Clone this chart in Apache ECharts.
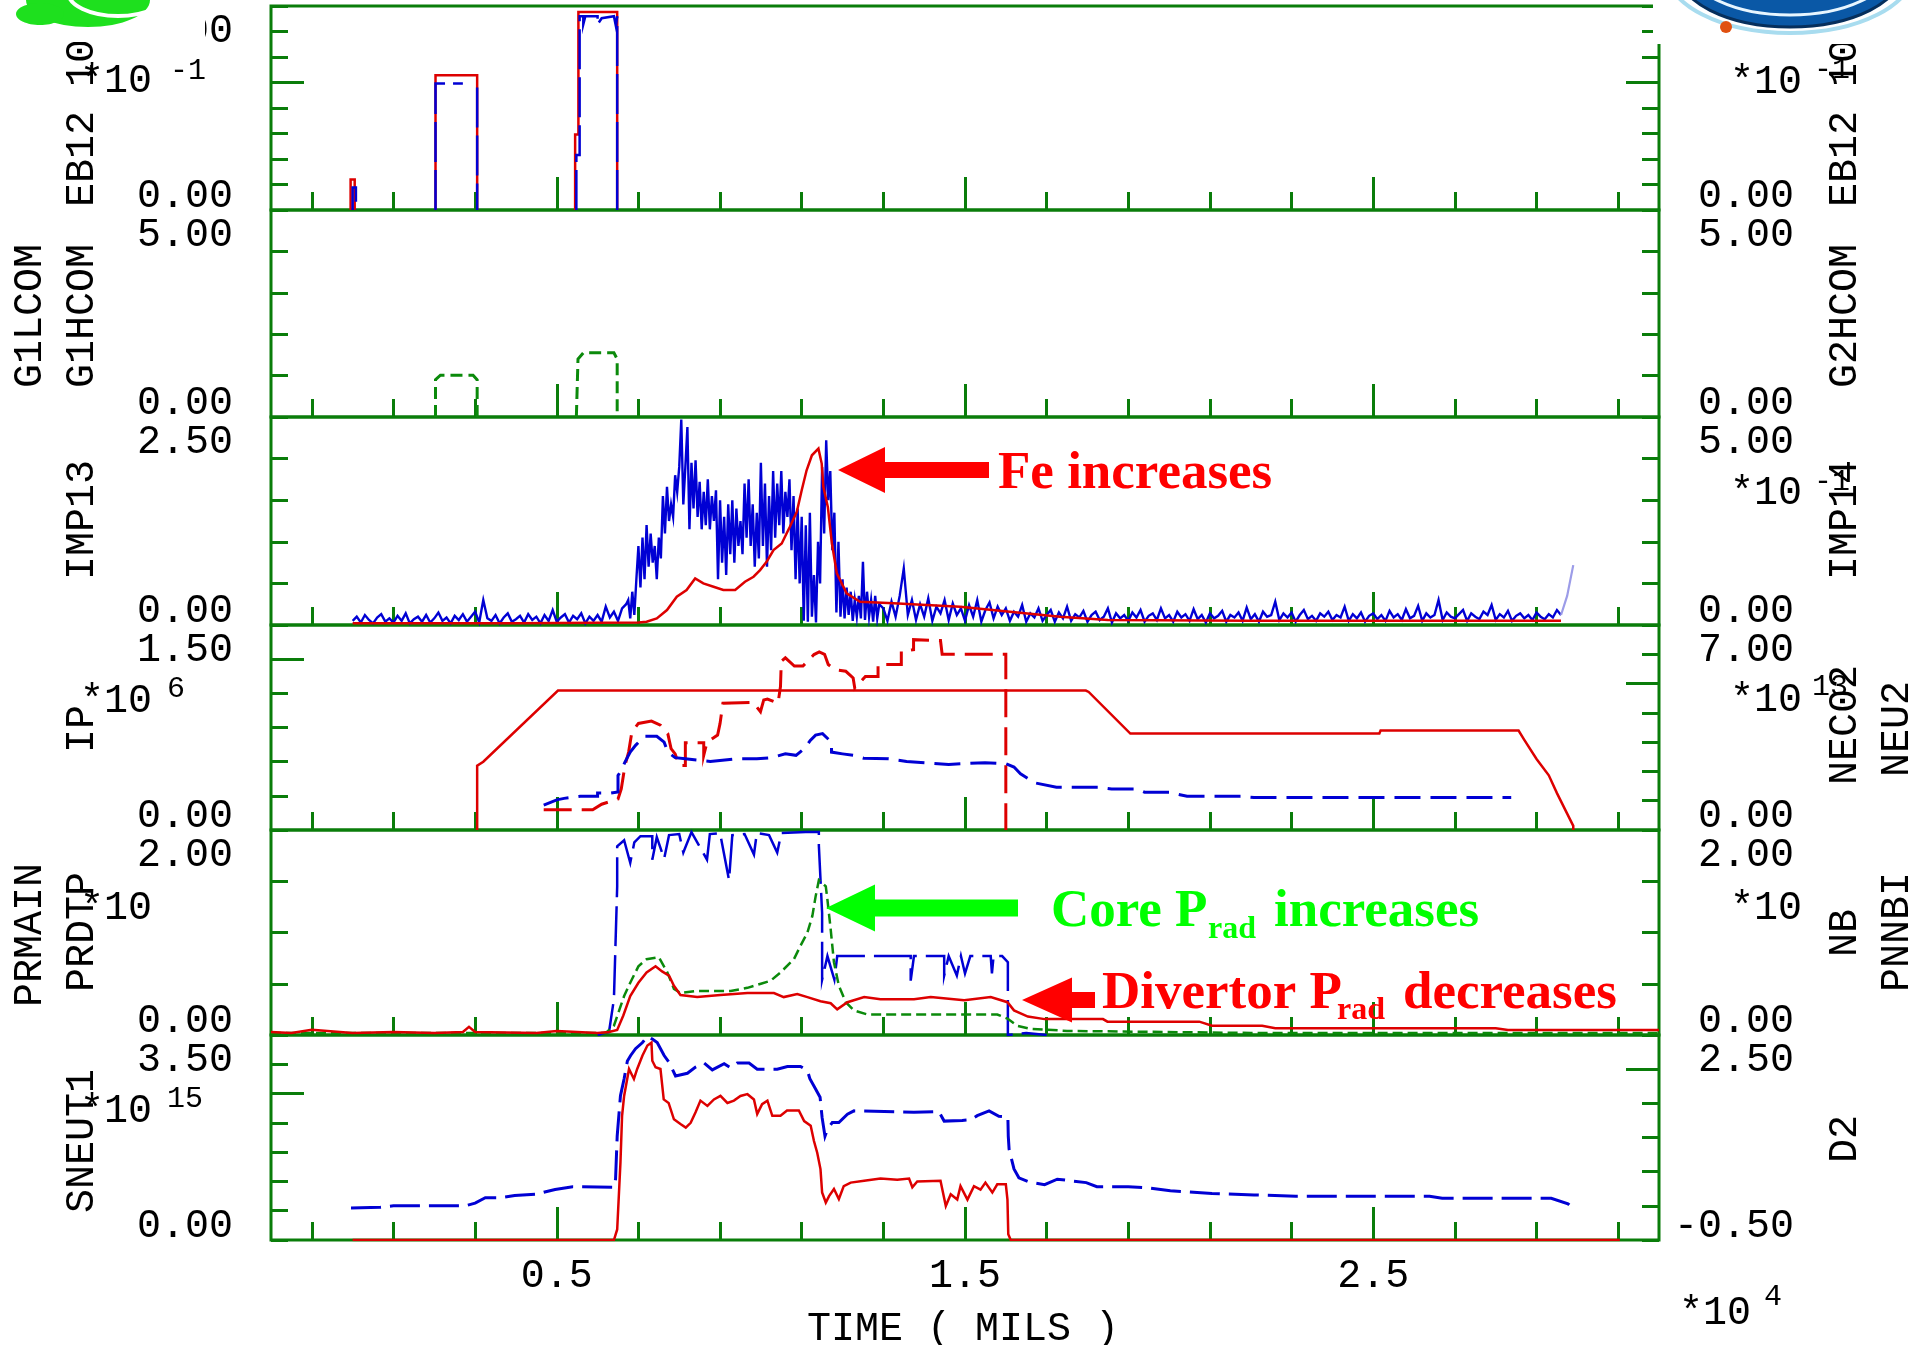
<!DOCTYPE html>
<html>
<head>
<meta charset="utf-8">
<script src="https://cdn.jsdelivr.net/npm/echarts@6/dist/echarts.min.js"></script>
<style>
  html, body { margin: 0; padding: 0; background: #ffffff; }
  #chart { width: 1924px; height: 1345px; }
</style>
</head>
<body>
<div id="chart"></div>
<script>
// ---------------- time axis (units of 10^4 mils) ----------------
const timeMin = -0.2;
const timeMax = 3.2;
const timeMinorTicks = [-0.1, 0.1, 0.3, 0.7, 0.9, 1.1, 1.3, 1.7, 1.9, 2.1, 2.3, 2.7, 2.9, 3.1];
const timeMajorTicks = [0.5, 1.5, 2.5];
const timeTickLabels = ['0.5', '1.5', '2.5'];

// ---------------- vertical scales of the six panels ----------------
const leftMin = [0, 0, 0, 0, 0, 0];
const leftMax = [1, 5, 2.5, 1.5, 2, 3.5];
const leftDivisions = [8, 5, 5, 6, 4, 7];
const leftLongTick = [0.625, null, null, 1.25, null, 2.5];
const leftLabelsBottom = ['0.00', '0.00', '0.00', '0.00', '0.00', '0.00'];
const leftLabelsTop = ['1.00', '5.00', '2.50', '1.50', '2.00', '3.50'];

const rightMin = [0, 0, 0, 0, 0, -0.5];
const rightMax = [1, 5, 5, 7, 2, 2.5];
const rightDivisions = [8, 5, 5, 7, 4, 6];
const rightLongTick = [0.625, null, null, 5, null, 2.0];
const rightLabelsBottom = ['0.00', '0.00', '0.00', '0.00', '0.00', '-0.50'];
const rightLabelsTop = ['1.00', '5.00', '5.00', '7.00', '2.00', '2.50'];

// ---------------- signals: [time, value] ----------------
// Panel 1: EB12 beam energies
const eb12Red = [[-0.005, 0], [-0.005, 0.15], [0.005, 0.15], [0.005, 0], [0.1, '-'],
  [0.203, 0], [0.203, 0.66], [0.305, 0.66], [0.305, 0], [0.4, '-'],
  [0.545, 0], [0.545, 0.37], [0.553, 0.37], [0.553, 0.97], [0.648, 0.97], [0.648, 0]];
const eb12Blue = [[0.0, 0], [0.0, 0.11], [0.008, 0.11], [0.008, 0], [0.1, '-'],
  [0.203, 0], [0.203, 0.62], [0.27, 0.62], [0.27, '-'], [0.305, 0.6], [0.305, 0], [0.4, '-'],
  [0.548, 0], [0.548, 0.27], [0.556, 0.27], [0.556, 0.95], [0.565, 0.95], [0.565, 0.91],
  [0.57, 0.95], [0.6, 0.95], [0.6, 0.91], [0.61, 0.94], [0.64, 0.95], [0.645, 0.9], [0.648, 0.95], [0.648, 0]];

// Panel 2: gyrotron commands
const g1hcomGreen = [[0.203, 0], [0.203, 0.9], [0.215, 1.01], [0.295, 1.01], [0.305, 0.9], [0.305, 0], [0.4, '-'],
  [0.548, 0], [0.552, 1.4], [0.565, 1.55], [0.64, 1.55], [0.648, 1.4], [0.648, 0]];

// Panel 3: impurity line intensities (blue sampled on a fixed time grid)
const imp13PreStart = 0.0, imp13PreStep = 0.01;
const imp13PreValues = [
  0.05, 0.10, 0.03, 0.12, 0.06, 0.02, 0.09, 0.13, 0.04, 0.08,
  0.03, 0.11, 0.05, 0.14, 0.02, 0.07, 0.10, 0.04, 0.12, 0.03,
  0.08, 0.15, 0.05, 0.09, 0.02, 0.11, 0.06, 0.13, 0.04, 0.10,
  0.16, 0.03, 0.30, 0.08, 0.05, 0.12, 0.02, 0.09, 0.14, 0.04,
  0.07, 0.11, 0.03, 0.13, 0.06, 0.10, 0.02, 0.12, 0.05, 0.18,
  0.04, 0.09, 0.13, 0.03, 0.11, 0.07, 0.14, 0.02, 0.10, 0.05,
  0.12, 0.04, 0.22, 0.09, 0.16, 0.05, 0.20];
const imp13BurstStart = 0.67, imp13BurstStep = 0.005;
const imp13BurstValues = [
  0.25, 0.30, 0.08, 0.40, 0.12, 0.55, 0.95, 0.45, 1.05, 0.55,
  1.20, 0.70, 1.10, 0.75, 0.95, 0.55, 1.05, 0.80, 1.55, 1.10,
  1.66, 1.25, 1.45, 1.30, 1.80, 1.60, 1.90, 2.47, 1.45, 1.90,
  2.38, 1.15, 1.95, 1.40, 1.98, 1.30, 1.72, 1.15, 1.60, 1.20,
  1.75, 1.15, 1.55, 1.25, 1.62, 0.55, 1.50, 0.75, 1.30, 0.60,
  1.45, 0.85, 1.50, 0.75, 1.40, 0.95, 1.25, 0.85, 1.70, 1.05,
  1.75, 0.95, 1.45, 0.70, 1.35, 0.80, 1.95, 0.95, 1.70, 0.70,
  1.55, 0.90, 1.85, 1.05, 1.70, 1.20, 1.85, 1.10, 1.60, 1.30,
  1.75, 0.90, 1.55, 0.55, 1.40, 0.50, 1.30, 0.05, 1.20, 0.04,
  1.35, 0.10, 0.60, 0.03, 1.00, 0.50, 1.90, 1.10, 2.22, 1.50,
  1.85, 0.90, 1.35, 0.15, 1.00, 0.10, 0.55, 0.08, 0.45, 0.12,
  0.40, 0.05, 0.30, 0.10, 0.35, 0.08, 0.76, 0.06, 0.40, 0.10,
  0.30, 0.04, 0.35, 0.08, 0.25];
const imp13PostStart = 1.30, imp13PostStep = 0.01;
const imp13PostValues = [
  0.20, 0.05, 0.28, 0.10, 0.35, 0.68, 0.12, 0.30, 0.06, 0.25,
  0.10, 0.32, 0.05, 0.22, 0.14, 0.30, 0.06, 0.26, 0.12, 0.20,
  0.05, 0.24, 0.10, 0.30, 0.04, 0.18, 0.27, 0.08, 0.22, 0.12,
  0.20, 0.05, 0.16, 0.10, 0.24, 0.04, 0.14, 0.09, 0.20, 0.05,
  0.12, 0.18, 0.04, 0.15, 0.08, 0.22, 0.05, 0.13, 0.09, 0.17,
  0.04, 0.12, 0.16, 0.06, 0.10, 0.20, 0.03, 0.14, 0.08, 0.12,
  0.05, 0.15, 0.09, 0.18, 0.04, 0.11, 0.14, 0.06, 0.20, 0.08,
  0.12, 0.04, 0.16, 0.09, 0.13, 0.05, 0.19, 0.07, 0.12, 0.03,
  0.14, 0.08, 0.11, 0.17, 0.04, 0.12, 0.09, 0.15, 0.05, 0.21,
  0.07, 0.13, 0.04, 0.16, 0.10, 0.12, 0.28, 0.06, 0.14, 0.09,
  0.15, 0.04, 0.12, 0.18, 0.07, 0.11, 0.05, 0.14, 0.10, 0.16,
  0.06, 0.12, 0.09, 0.22, 0.05, 0.13, 0.08, 0.15, 0.04, 0.11,
  0.14, 0.07, 0.12, 0.05, 0.17, 0.09, 0.13, 0.06, 0.19, 0.08,
  0.11, 0.23, 0.05, 0.14, 0.09, 0.12, 0.30, 0.06, 0.15, 0.10,
  0.08, 0.13, 0.18, 0.05, 0.14, 0.10, 0.07, 0.16, 0.12, 0.24,
  0.06, 0.13, 0.09, 0.17, 0.05, 0.11, 0.14, 0.08, 0.12, 0.06,
  0.15, 0.10, 0.07, 0.13, 0.09, 0.18, 0.12];
const imp13Tail = [[2.96, 0.12], [2.975, 0.35], [2.99, 0.72]];
const imp14Red = [[0.0, 0.02], [0.40, 0.02], [0.70, 0.03], [0.72, 0.04], [0.745, 0.08], [0.77, 0.18],
  [0.794, 0.34], [0.818, 0.42], [0.839, 0.56], [0.859, 0.50], [0.884, 0.46], [0.908, 0.42], [0.937, 0.42],
  [0.961, 0.52], [0.982, 0.58], [0.998, 0.66], [1.014, 0.76], [1.031, 0.90], [1.051, 0.98], [1.071, 1.18],
  [1.088, 1.36], [1.100, 1.62], [1.112, 1.86], [1.125, 2.04], [1.141, 2.12], [1.149, 1.94], [1.153, 1.66],
  [1.164, 1.42], [1.174, 0.98], [1.186, 0.62], [1.21, 0.38], [1.243, 0.28], [1.325, 0.26], [1.406, 0.24],
  [1.488, 0.22], [1.61, 0.16], [1.733, 0.10], [1.85, 0.06], [2.2, 0.05], [2.96, 0.05]];

// Panel 4: plasma current (left) and densities (right)
const ipRed = [[0.305, 0], [0.305, 0.47], [0.32, 0.50], [0.503, 1.02], [1.796, 1.02], [1.803, 1.01],
  [1.905, 0.706], [2.515, 0.706], [2.518, 0.728], [2.856, 0.728], [2.87, 0.66], [2.90, 0.52],
  [2.93, 0.40], [2.95, 0.27], [2.975, 0.12], [2.99, 0.03], [2.99, 0]];
const nec02Red = [[0.468, 0.69], [0.588, 0.69], [0.61, 0.88], [0.65, 1.06], [0.658, 1.4], [0.667, 2.2],
  [0.676, 2.66], [0.684, 3.35], [0.70, 3.64], [0.732, 3.72], [0.754, 3.58], [0.772, 3.29], [0.78, 2.78],
  [0.79, 2.6], [0.80, 2.2], [0.815, 2.2], [0.815, 2.98], [0.86, 2.98], [0.86, 2.55], [0.868, 3.0],
  [0.894, 3.24], [0.9, 3.64], [0.907, 4.33], [0.981, 4.36], [0.999, 4.04], [1.007, 4.44], [1.016, 4.47],
  [1.042, 4.33], [1.048, 4.9], [1.05, 5.76], [1.06, 5.88], [1.082, 5.6], [1.103, 5.6], [1.13, 5.99],
  [1.143, 6.08], [1.156, 6.0], [1.165, 5.65], [1.182, 5.47], [1.208, 5.42], [1.226, 5.19], [1.23, 4.84],
  [1.256, 5.24], [1.287, 5.24], [1.287, 5.65], [1.344, 5.65], [1.344, 6.1], [1.374, 6.16], [1.374, 6.5],
  [1.44, 6.47], [1.444, 6.0], [1.60, 6.0], [1.60, 0]];
const neu2Blue = [[0.468, 0.85], [0.5, 1.03], [0.518, 1.08], [0.558, 1.15], [0.6, 1.15], [0.6, 1.26],
  [0.63, 1.26], [0.65, 1.3], [0.65, 1.86], [0.658, 2.03], [0.667, 2.32], [0.68, 2.66], [0.693, 2.89],
  [0.715, 3.2], [0.745, 3.2], [0.763, 3.0], [0.772, 2.66], [0.79, 2.47], [0.815, 2.43], [0.876, 2.34],
  [0.94, 2.43], [0.99, 2.43], [1.025, 2.47], [1.06, 2.6], [1.086, 2.55], [1.108, 2.8], [1.121, 3.06],
  [1.134, 3.24], [1.151, 3.29], [1.173, 3.0], [1.173, 2.66], [1.2, 2.6], [1.226, 2.55], [1.252, 2.45],
  [1.313, 2.43], [1.357, 2.34], [1.46, 2.24], [1.549, 2.3], [1.601, 2.26], [1.62, 2.15], [1.636, 1.92],
  [1.671, 1.61], [1.724, 1.46], [1.828, 1.46], [1.859, 1.4], [1.92, 1.4], [1.94, 1.29], [2.0, 1.29],
  [2.044, 1.15], [2.177, 1.15], [2.208, 1.11], [2.838, 1.11]];

// Panel 5: radiated powers (left) and beam power (right)
const nbBlue = [[0.6, 0], [0.628, 0.03], [0.64, 0.35], [0.648, 1.45], [0.648, 1.84], [0.665, 1.9],
  [0.68, 1.68], [0.69, 1.88], [0.705, 1.94], [0.734, 1.94], [0.734, 1.71], [0.745, 1.93], [0.763, 1.72],
  [0.775, 1.95], [0.80, 1.96], [0.81, 1.78], [0.83, 1.98], [0.868, 1.71], [0.875, 1.96], [0.90, 1.97],
  [0.922, 1.51], [0.93, 1.95], [0.96, 1.96], [0.983, 1.76], [0.99, 1.97], [1.02, 1.95], [1.04, 1.78],
  [1.05, 1.97], [1.11, 1.98], [1.142, 1.98], [1.142, 1.85], [1.15, 1.19], [1.15, 0.54], [1.163, 0.77],
  [1.18, 0.54], [1.187, 0.77], [1.367, 0.77], [1.367, 0.53], [1.375, 0.77], [1.449, 0.77], [1.449, 0.58],
  [1.46, 0.77], [1.48, 0.58], [1.49, 0.77], [1.50, 0.6], [1.513, 0.77], [1.563, 0.77], [1.566, 0.6],
  [1.57, 0.77], [1.591, 0.77], [1.605, 0.71], [1.605, 0], [1.65, 0.02], [1.7, 0]];
const coreGreen = [[-0.2, 0.02], [0.62, 0.02], [0.64, 0.09], [0.665, 0.38], [0.68, 0.51], [0.70, 0.67],
  [0.72, 0.74], [0.75, 0.76], [0.771, 0.61], [0.787, 0.45], [0.803, 0.41], [0.844, 0.43], [0.926, 0.43],
  [0.967, 0.46], [1.0, 0.5], [1.024, 0.53], [1.048, 0.61], [1.081, 0.74], [1.097, 0.87], [1.114, 1.0],
  [1.126, 1.16], [1.134, 1.35], [1.142, 1.51], [1.159, 1.45], [1.163, 1.32], [1.171, 1.03], [1.179, 0.71],
  [1.191, 0.48], [1.208, 0.32], [1.228, 0.24], [1.261, 0.2], [1.579, 0.2], [1.604, 0.16], [1.628, 0.09],
  [1.661, 0.06], [1.75, 0.04], [2.2, 0.02], [3.2, 0.02]];
const divertorRed = [[-0.2, 0.03], [-0.15, 0.02], [-0.1, 0.05], [0.0, 0.02], [0.1, 0.03], [0.2, 0.02],
  [0.27, 0.03], [0.285, 0.08], [0.3, 0.03], [0.45, 0.02], [0.5, 0.04], [0.6, 0.02], [0.628, 0.03],
  [0.648, 0.05], [0.663, 0.19], [0.68, 0.38], [0.70, 0.51], [0.72, 0.61], [0.742, 0.67], [0.758, 0.62],
  [0.775, 0.58], [0.787, 0.48], [0.803, 0.39], [0.844, 0.37], [0.901, 0.39], [0.967, 0.41], [1.032, 0.41],
  [1.056, 0.37], [1.089, 0.40], [1.114, 0.37], [1.146, 0.33], [1.171, 0.31], [1.187, 0.25], [1.212, 0.32],
  [1.253, 0.37], [1.293, 0.35], [1.375, 0.35], [1.416, 0.37], [1.498, 0.34], [1.563, 0.37], [1.604, 0.32],
  [1.62, 0.24], [1.654, 0.18], [1.695, 0.155], [1.838, 0.155], [1.849, 0.13], [2.074, 0.13], [2.105, 0.09],
  [2.228, 0.09], [2.26, 0.065], [2.80, 0.065], [2.83, 0.05], [3.2, 0.05]];

// Panel 6: neutron rate (left) and D-alpha (right)
const sneut1Red = [[0.0, 0], [0.64, 0], [0.648, 0.18], [0.656, 1.32], [0.66, 2.12], [0.665, 2.46],
  [0.677, 2.92], [0.689, 2.75], [0.697, 2.92], [0.71, 3.15], [0.722, 3.32], [0.732, 3.37], [0.734, 3.06],
  [0.742, 2.95], [0.754, 2.92], [0.762, 2.4], [0.774, 2.34], [0.787, 2.06], [0.803, 1.98], [0.816, 1.92],
  [0.828, 2.0], [0.84, 2.18], [0.852, 2.38], [0.869, 2.29], [0.885, 2.4], [0.901, 2.46], [0.918, 2.34],
  [0.934, 2.38], [0.95, 2.46], [0.967, 2.49], [0.983, 2.4], [0.991, 2.15], [1.003, 2.32], [1.016, 2.38],
  [1.028, 2.12], [1.048, 2.12], [1.064, 2.21], [1.093, 2.21], [1.106, 2.03], [1.122, 1.95], [1.13, 1.69],
  [1.138, 1.49], [1.146, 1.21], [1.15, 0.81], [1.159, 0.64], [1.167, 0.75], [1.179, 0.87], [1.191, 0.7],
  [1.203, 0.92], [1.22, 0.98], [1.253, 1.01], [1.293, 1.05], [1.334, 1.03], [1.363, 1.05], [1.371, 0.9],
  [1.383, 1.0], [1.44, 1.01], [1.453, 0.58], [1.465, 0.78], [1.481, 0.69], [1.489, 0.92], [1.506, 0.69],
  [1.522, 0.92], [1.538, 0.86], [1.55, 0.98], [1.567, 0.81], [1.579, 0.95], [1.6, 0.95], [1.604, 0.69],
  [1.606, 0.1], [1.612, 0], [3.104, 0]];
const d2Blue = [[-0.004, -0.03], [0.068, -0.02], [0.1, 0.0], [0.276, 0.0], [0.3, 0.04], [0.325, 0.12],
  [0.364, 0.12], [0.397, 0.15], [0.452, 0.17], [0.468, 0.2], [0.496, 0.24], [0.539, 0.28], [0.64, 0.27],
  [0.644, 0.39], [0.648, 1.02], [0.656, 1.61], [0.665, 1.86], [0.673, 2.12], [0.681, 2.2], [0.693, 2.3],
  [0.71, 2.39], [0.722, 2.48], [0.734, 2.44], [0.746, 2.39], [0.763, 2.2], [0.775, 2.1], [0.791, 1.9],
  [0.82, 1.94], [0.84, 2.03], [0.861, 2.09], [0.881, 1.99], [0.91, 2.08], [0.926, 2.02], [0.942, 2.09],
  [0.971, 2.09], [0.991, 2.0], [1.04, 2.0], [1.065, 2.04], [1.097, 2.04], [1.114, 1.98], [1.12, 1.86],
  [1.134, 1.71], [1.145, 1.59], [1.15, 1.29], [1.157, 1.02], [1.163, 1.12], [1.175, 1.22], [1.191, 1.22],
  [1.212, 1.34], [1.228, 1.39], [1.375, 1.37], [1.436, 1.38], [1.449, 1.24], [1.493, 1.25], [1.514, 1.26],
  [1.53, 1.32], [1.559, 1.39], [1.583, 1.31], [1.605, 1.3], [1.606, 1.02], [1.608, 0.83], [1.62, 0.54],
  [1.632, 0.41], [1.657, 0.35], [1.695, 0.31], [1.726, 0.39], [1.797, 0.34], [1.823, 0.28], [1.9, 0.28],
  [1.951, 0.26], [2.003, 0.22], [2.105, 0.18], [2.208, 0.16], [2.31, 0.14], [2.638, 0.14], [2.669, 0.11],
  [2.936, 0.11], [2.977, 0.03], [2.99, -0.04]];

// ---------------- layout and styling ----------------
const PLOT_LEFT = 271, PLOT_WIDTH = 1388;
const PANEL_TOP = [6, 210, 417, 625, 830, 1035];
const PANEL_BOTTOM = [210, 417, 625, 830, 1035, 1240];
const AXIS_GREEN = '#0a7d0a';
const BLUE = '#0000d4', RED = '#dd0000', TRACE_GREEN = '#0b8a0b';
const MONO = '"Liberation Mono", "DejaVu Sans Mono", monospace';
const SERIF = '"Liberation Serif", "DejaVu Serif", serif';

function sampled(start, step, values) {
  return values.map((v, i) => [+(start + i * step).toFixed(4), v]);
}
const imp13Blue = []
  .concat(sampled(imp13PreStart, imp13PreStep, imp13PreValues))
  .concat(sampled(imp13BurstStart, imp13BurstStep, imp13BurstValues))
  .concat(sampled(imp13PostStart, imp13PostStep, imp13PostValues));

const option = {
  animation: false,
  backgroundColor: '#ffffff',
  textStyle: { fontFamily: MONO },
  grid: [], xAxis: [], yAxis: [], series: [], graphic: []
};

const tickLine = { color: AXIS_GREEN, width: 3 };
const hiddenLine = { show: false, onZero: false };

for (let i = 0; i < 6; i++) {
  option.grid.push({
    left: PLOT_LEFT, width: PLOT_WIDTH, top: PANEL_TOP[i], height: PANEL_BOTTOM[i] - PANEL_TOP[i],
    show: true, borderColor: AXIS_GREEN, borderWidth: 3, backgroundColor: 'rgba(0,0,0,0)',
    containLabel: false, outerBoundsMode: 'none'
  });
  const last = i === 5;
  option.xAxis.push({
    gridIndex: i, type: 'value', position: 'bottom', min: timeMin, max: timeMax,
    axisLine: hiddenLine, splitLine: { show: false }, axisLabel: { show: false },
    axisTick: { show: true, inside: true, length: 18, customValues: timeMinorTicks, lineStyle: tickLine }
  });
  option.xAxis.push({
    gridIndex: i, type: 'value', position: 'bottom', min: timeMin, max: timeMax,
    axisLine: hiddenLine, splitLine: { show: false },
    axisTick: { show: true, inside: true, length: 33, customValues: timeMajorTicks, lineStyle: tickLine },
    axisLabel: {
      show: last, customValues: timeMajorTicks, margin: 16, fontSize: 40, fontFamily: MONO, color: '#000',
      formatter: v => timeTickLabels[timeMajorTicks.findIndex(t => Math.abs(t - v) < 1e-6)]
    }
  });
  addYAxes(i, 'left', leftMin[i], leftMax[i], leftDivisions[i], leftLongTick[i], leftLabelsBottom[i], leftLabelsTop[i]);
  addYAxes(i, 'right', rightMin[i], rightMax[i], rightDivisions[i], rightLongTick[i], rightLabelsBottom[i], rightLabelsTop[i]);
}

function addYAxes(grid, side, min, max, div, longTick, bottomLabel, topLabel) {
  const isRight = side === 'right';
  const labelBase = { fontSize: 40, fontFamily: MONO, color: '#000', margin: isRight ? 135 : 38, align: 'right' };
  // scale with regular ticks and the lower end label (sits just above the panel floor)
  option.yAxis.push({
    gridIndex: grid, type: 'value', position: side, min, max, interval: (max - min) / div,
    axisLine: hiddenLine, splitLine: { show: false },
    axisTick: { show: true, inside: true, length: 17, lineStyle: tickLine },
    axisLabel: Object.assign({}, labelBase, { customValues: [min], formatter: () => bottomLabel, verticalAlign: 'bottom', lineHeight: 28 })
  });
  // marker tick and the upper end label (sits just below the panel ceiling)
  option.yAxis.push({
    gridIndex: grid, type: 'value', position: side, min, max,
    axisLine: hiddenLine, splitLine: { show: false },
    axisTick: { show: longTick != null, inside: true, length: 33, customValues: longTick != null ? [longTick] : [], lineStyle: tickLine },
    axisLabel: Object.assign({}, labelBase, { customValues: [max], formatter: () => topLabel, verticalAlign: 'top', lineHeight: 50 })
  });
}

// side: 0 = left scale, 2 = right scale
function addLine(grid, side, data, color, width, dash, z) {
  option.series.push({
    type: 'line', xAxisIndex: grid * 2, yAxisIndex: grid * 4 + side, data,
    showSymbol: false, symbol: 'none', connectNulls: false, silent: true, z: z || 2,
    lineStyle: { color, width, type: dash || 'solid', cap: 'butt', join: 'miter' }
  });
}

addLine(0, 0, eb12Red, RED, 2.5, 'solid', 2);
addLine(0, 0, eb12Blue, BLUE, 2.5, [40, 8], 3);
addLine(1, 0, g1hcomGreen, TRACE_GREEN, 3, [12, 6], 2);
addLine(2, 0, imp13Blue, BLUE, 2.4, 'solid', 2);
addLine(2, 0, imp13Tail, '#9c9ce8', 2.2, 'solid', 2);
addLine(2, 0, imp14Red, RED, 2.5, 'solid', 3);
addLine(3, 0, ipRed, RED, 2.5, 'solid', 2);
addLine(3, 2, nec02Red, RED, 3, [28, 10], 3);
addLine(3, 2, neu2Blue, BLUE, 3, [26, 10], 3);
addLine(4, 2, nbBlue, BLUE, 2.5, [40, 9], 2);
addLine(4, 0, coreGreen, TRACE_GREEN, 2.5, [10, 5], 3);
addLine(4, 0, divertorRed, RED, 2.5, 'solid', 3);
addLine(5, 0, sneut1Red, RED, 2.5, 'solid', 3);
addLine(5, 2, d2Blue, BLUE, 3, [30, 9], 2);

// ---------------- text, annotations and corner emblems ----------------
const G = option.graphic;
function text(x, y, str, font, fill, opts) {
  const o = opts || {};
  G.push({
    type: 'text', x, y, z: o.z || 100, rotation: o.rotate ? Math.PI / 2 : 0, silent: true,
    style: { text: str, font, fill, align: o.align || 'left', verticalAlign: 'middle',
             textAlign: o.align || 'left', textVerticalAlign: 'middle' }
  });
}
const labelFont = '40px ' + MONO;
const supFont = '30px ' + MONO;

// vertical signal names
[['EB12 10E', 82, 207], ['G1LCOM', 30, 388], ['G1HCOM', 82, 388], ['IMP13', 82, 580],
 ['IP', 82, 753], ['PRMAIN', 30, 1007], ['PRDTP', 82, 992], ['SNEUT1', 82, 1213],
 ['EB12 10I', 1845, 207], ['G2HCOM', 1845, 388], ['IMP14', 1845, 580], ['NEC02', 1845, 785],
 ['NEU2', 1897, 777], ['NB', 1845, 957], ['PNNBI', 1897, 992], ['D2', 1845, 1163]]
  .forEach(([s, x, y]) => text(x, y, s, labelFont, '#000', { rotate: true }));

// scale multipliers
[[80, 81], [80, 701], [80, 908], [80, 1111], [1730, 82], [1730, 493], [1730, 700], [1730, 908]]
  .forEach(([x, y]) => text(x, y, '*10', labelFont, '#000'));
[['-1', 170, 71], ['6', 167, 689], ['15', 167, 1099], ['-1', 1814, 70], ['-1', 1814, 482], ['13', 1812, 687]]
  .forEach(([s, x, y]) => text(x, y, s, supFont, '#000'));

// time axis title and multiplier
text(963, 1329, 'TIME ( MILS )', labelFont, '#000', { align: 'center' });
text(1679, 1313, '*10', labelFont, '#000');
text(1764, 1297, '4', supFont, '#000');

// annotations
const bigFont = 'bold 53px ' + SERIF;
const subFont = 'bold 32px ' + SERIF;
const FE_RED = '#ff0000', CORE_GREEN = '#00ff00';
text(998, 474, 'Fe increases', bigFont, FE_RED);
text(1051, 912, 'Core P', bigFont, CORE_GREEN);
text(1208, 930, 'rad', subFont, CORE_GREEN);
text(1274, 912, 'increases', bigFont, CORE_GREEN);
text(1102, 994, 'Divertor P', bigFont, FE_RED);
text(1337, 1011, 'rad', subFont, FE_RED);
text(1403, 994, 'decreases', bigFont, FE_RED);

function arrow(tipX, midY, headX, headHalf, shaftHalf, endX, fill) {
  G.push({
    type: 'polygon', z: 100, silent: true,
    shape: { points: [[tipX, midY], [headX, midY - headHalf], [headX, midY - shaftHalf], [endX, midY - shaftHalf],
                      [endX, midY + shaftHalf], [headX, midY + shaftHalf], [headX, midY + headHalf]] },
    style: { fill }
  });
}
arrow(838, 470, 885, 23, 8, 989, FE_RED);
arrow(826, 908, 875, 23.5, 8.5, 1018, CORE_GREEN);
arrow(1022, 1000, 1072, 22.5, 8, 1095, FE_RED);

// corner emblems
G.push({ type: 'rect', z: 200, silent: true, shape: { x: 0, y: 0, width: 205, height: 42 }, style: { fill: '#fff' } });
G.push({ type: 'ellipse', z: 201, silent: true, shape: { cx: 88, cy: 0, rx: 62, ry: 27 }, style: { fill: '#1ee01e' } });
G.push({ type: 'ellipse', z: 201, silent: true, shape: { cx: 40, cy: 14, rx: 24, ry: 11 }, style: { fill: '#1ee01e' } });
G.push({ type: 'ellipse', z: 202, silent: true, shape: { cx: 118, cy: -8, rx: 50, ry: 24 }, style: { fill: 'none', stroke: '#ffffff', lineWidth: 4 } });
G.push({ type: 'rect', z: 200, silent: true, shape: { x: 1653, y: 0, width: 271, height: 44 }, style: { fill: '#fff' } });
G.push({ type: 'ellipse', z: 201, silent: true, shape: { cx: 1790, cy: -30, rx: 124, ry: 63 }, style: { fill: 'none', stroke: '#a8dcef', lineWidth: 4 } });
G.push({ type: 'ellipse', z: 202, silent: true, shape: { cx: 1790, cy: -30, rx: 113, ry: 57 }, style: { fill: '#0a58a6', stroke: '#062f5c', lineWidth: 3 } });
G.push({ type: 'ellipse', z: 203, silent: true, shape: { cx: 1790, cy: -32, rx: 100, ry: 47 }, style: { fill: 'none', stroke: '#e8f6ff', lineWidth: 3 } });
G.push({ type: 'circle', z: 204, silent: true, shape: { cx: 1726, cy: 27, r: 6 }, style: { fill: '#e05010' } });

const chart = echarts.init(document.getElementById('chart'), null, { renderer: 'canvas' });
chart.setOption(option);
</script>
</body>
</html>
